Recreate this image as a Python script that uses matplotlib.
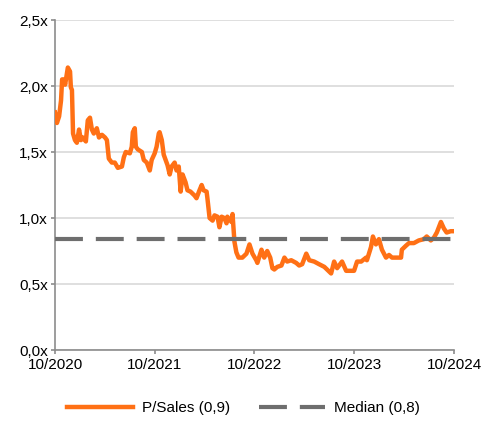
import pandas as pd
import matplotlib.pyplot as plt
import matplotlib.dates as mdates
from matplotlib.ticker import FuncFormatter

plt.rcParams['font.family'] = ['Liberation Sans', 'DejaVu Sans']

# P/Sales multiple over time
dates = [
    '2020-10-01', '2020-10-08', '2020-10-16', '2020-10-23', '2020-10-27', '2020-11-03',
    '2020-11-07', '2020-11-14', '2020-11-17', '2020-11-25', '2020-11-28', '2020-12-02',
    '2020-12-06', '2020-12-13', '2020-12-20', '2020-12-28', '2021-01-04', '2021-01-11',
    '2021-01-22', '2021-01-29', '2021-02-06', '2021-02-13', '2021-02-20', '2021-03-03',
    '2021-03-11', '2021-03-22', '2021-04-02', '2021-04-09', '2021-04-16', '2021-04-27',
    '2021-05-08', '2021-05-19', '2021-06-03', '2021-06-10', '2021-06-17', '2021-07-02',
    '2021-07-09', '2021-07-13', '2021-07-20', '2021-07-24', '2021-07-31', '2021-08-15',
    '2021-08-22', '2021-09-02', '2021-09-13', '2021-09-20', '2021-10-01', '2021-10-08',
    '2021-10-16', '2021-10-19', '2021-10-27', '2021-11-03', '2021-11-10', '2021-11-17',
    '2021-11-25', '2021-12-02', '2021-12-13', '2021-12-20', '2021-12-28', '2022-01-04',
    '2022-01-11', '2022-01-22', '2022-01-29', '2022-02-09', '2022-02-24', '2022-03-03',
    '2022-03-14', '2022-03-22', '2022-03-29', '2022-04-09', '2022-04-12', '2022-04-20',
    '2022-05-01', '2022-05-08', '2022-05-19', '2022-05-26', '2022-06-03', '2022-06-13',
    '2022-06-21', '2022-06-24', '2022-07-09', '2022-07-13', '2022-07-20', '2022-07-27',
    '2022-08-04', '2022-08-18', '2022-09-02', '2022-09-13', '2022-09-24', '2022-10-08',
    '2022-10-12', '2022-10-27', '2022-11-06', '2022-11-17', '2022-11-28', '2022-12-06',
    '2022-12-13', '2022-12-24', '2023-01-08', '2023-01-19', '2023-01-29', '2023-02-13',
    '2023-03-03', '2023-03-14', '2023-03-25', '2023-04-09', '2023-04-20', '2023-05-08',
    '2023-05-26', '2023-06-14', '2023-06-24', '2023-07-09', '2023-07-20', '2023-07-31',
    '2023-08-18', '2023-09-02', '2023-09-13', '2023-10-01', '2023-10-12', '2023-10-27',
    '2023-11-14', '2023-11-17', '2023-12-02', '2023-12-09', '2023-12-20', '2023-12-31',
    '2024-01-11', '2024-01-26', '2024-02-06', '2024-02-17', '2024-03-06', '2024-03-21',
    '2024-03-24', '2024-04-08', '2024-04-19', '2024-05-07', '2024-05-25', '2024-06-13',
    '2024-06-23', '2024-07-08', '2024-07-19', '2024-07-30', '2024-08-14', '2024-08-25',
    '2024-09-04', '2024-09-19', '2024-09-30',
]
ps_values = [
    1.80, 1.72, 1.77, 1.89, 2.05, 2.05, 2.01, 2.10, 2.14, 2.11, 1.99, 1.97,
    1.64, 1.59, 1.57, 1.67, 1.59, 1.61, 1.58, 1.74, 1.76, 1.67, 1.64, 1.68,
    1.61, 1.63, 1.61, 1.59, 1.45, 1.42, 1.42, 1.38, 1.39, 1.46, 1.50, 1.49,
    1.54, 1.65, 1.68, 1.54, 1.52, 1.50, 1.44, 1.42, 1.36, 1.44, 1.49, 1.54,
    1.64, 1.65, 1.59, 1.48, 1.44, 1.40, 1.33, 1.39, 1.42, 1.36, 1.39, 1.20,
    1.33, 1.27, 1.21, 1.20, 1.17, 1.15, 1.21, 1.25, 1.21, 1.20, 1.15, 1.00,
    0.98, 1.02, 1.01, 0.93, 1.01, 1.00, 0.96, 1.01, 0.97, 1.03, 0.82, 0.74,
    0.70, 0.70, 0.73, 0.80, 0.73, 0.68, 0.66, 0.76, 0.70, 0.75, 0.70, 0.62,
    0.61, 0.63, 0.64, 0.70, 0.67, 0.68, 0.66, 0.64, 0.65, 0.73, 0.68, 0.67,
    0.65, 0.63, 0.61, 0.58, 0.67, 0.62, 0.67, 0.60, 0.60, 0.60, 0.67, 0.67,
    0.70, 0.68, 0.78, 0.86, 0.80, 0.84, 0.76, 0.70, 0.72, 0.70, 0.70, 0.70,
    0.76, 0.79, 0.81, 0.81, 0.83, 0.84, 0.86, 0.83, 0.85, 0.89, 0.97, 0.92,
    0.89, 0.90, 0.90,
]
median_value = 0.84
ps_label = 'P/Sales (0,9)'
median_label = 'Median (0,8)'
tick_dates = ['2020-10-01', '2021-10-01', '2022-10-01', '2023-10-01', '2024-10-01']
y_ticks = [0.0, 0.5, 1.0, 1.5, 2.0, 2.5]

x = pd.to_datetime(dates)
xt = pd.to_datetime(tick_dates)

orange = '#FF7015'
grey = '#6E6E6E'
spine = '#8C8C8C'

fig = plt.figure(figsize=(4.83, 4.22), dpi=100)
ax = fig.add_axes([0.1139, 0.1706, 0.8261, 0.782])

ax.plot(x, ps_values, color=orange, lw=3.2, solid_joinstyle='round',
        label=ps_label, zorder=3)
ax.plot([xt[0], xt[-1]], [median_value, median_value], color=grey, lw=3.0,
        dashes=(6.7, 3.1), label=median_label, zorder=4)

ax.set_xlim(xt[0], xt[-1])
ax.set_ylim(0, 2.5)
ax.set_xticks(xt)
ax.xaxis.set_major_formatter(mdates.DateFormatter('%m/%Y'))
ax.set_yticks(y_ticks)
ax.yaxis.set_major_formatter(FuncFormatter(lambda v, p: f'{v:.1f}x'.replace('.', ',')))

ax.grid(axis='y', color='#D9D9D9', lw=1.2)
ax.set_axisbelow(True)
for s in ['top', 'right']:
    ax.spines[s].set_visible(False)
for s in ['left', 'bottom']:
    ax.spines[s].set_color(spine)
    ax.spines[s].set_linewidth(1.2)
ax.tick_params(axis='both', colors=spine, labelcolor='black', labelsize=11,
               length=3, width=1.2)
ax.tick_params(axis='x', pad=3)
ax.tick_params(axis='y', pad=2)

fig.legend(loc='center', bbox_to_anchor=(0.504, 0.033), ncol=2, frameon=False,
           fontsize=11, handlelength=4.3, columnspacing=1.9, handletextpad=0.6,
           borderaxespad=0)

fig.savefig('out.png', dpi=100)
